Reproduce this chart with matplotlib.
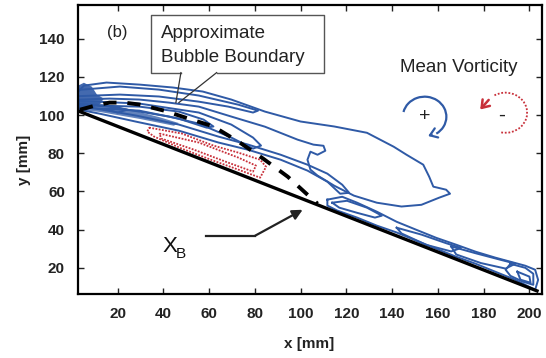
import matplotlib
matplotlib.use("Agg")
import matplotlib.pyplot as plt
from matplotlib.patches import Arc
import numpy as np

plt.rcParams["font.family"] = ["Liberation Sans", "DejaVu Sans"]

BLUE = "#2f5aa6"
RED = "#c8303a"

# ramp surface
wall_x = [1.0, 204.0]
wall_y = [103.0, 7.6]

# approximate bubble boundary (dashed)
bubble_x = [3.6, 10.1, 16.5, 23.0, 29.5, 40.3, 51.1, 61.9, 72.8, 83.6, 94.4, 103.0, 107.4]
bubble_y = [102.8, 104.9, 106.5, 106.5, 105.5, 102.3, 98.1, 94.0, 86.1, 77.2, 67.7, 58.3, 53.6]

# positive vorticity contours (closed loops, mm)
a_x = [1.5, 5.3, 15.2, 29.9, 44.2, 57.2, 69.7, 84.4, 100.0, 114.7, 129.0, 140.7, 146.3, 153.6,
       156.2, 158.0, 163.6, 165.3, 160.5, 152.8, 144.1, 133.3, 123.3, 114.7, 107.4, 104.3,
       103.0, 104.3, 107.4, 110.8, 110.0, 105.6, 98.7, 84.4, 69.7, 55.5, 42.5, 29.5, 16.5, 1.5]
a_y = [110.5, 115.4, 117.0, 115.9, 114.4, 112.3, 108.1, 101.8, 96.6, 94.0, 90.7, 83.4, 79.2, 74.0,
       67.7, 62.5, 60.9, 58.8, 56.7, 53.0, 52.1, 54.1, 57.8, 63.0, 68.3, 71.4,
       76.6, 80.8, 79.2, 81.3, 83.9, 84.5, 87.1, 93.9, 99.2, 104.4, 106.5, 108.1, 108.6, 108.0]

a2_x = [1.5, 21.0, 38.1, 55.5, 72.8, 81.4, 79.2, 68.4, 55.5, 38.1, 21.0, 1.5]
a2_y = [113.0, 114.9, 113.3, 110.2, 105.4, 102.3, 101.3, 104.4, 107.0, 109.7, 110.7, 109.8]

b_x = [1.5, 29.5, 55.5, 69.7, 79.2, 82.7, 79.2, 69.7, 55.5, 42.5, 29.5, 16.5, 1.5]
b_y = [107.5, 106.0, 101.3, 95.0, 88.2, 84.0, 82.4, 88.2, 95.5, 99.2, 101.8, 104.3, 106.0]

c_x = [3.0, 12.2, 29.5, 46.8, 57.6, 61.9, 58.9, 46.8, 29.5, 12.2, 3.0]
c_y = [105.5, 104.9, 104.4, 101.8, 97.6, 94.0, 93.4, 98.1, 102.3, 103.4, 104.0]

e_x = [15.7, 20.0, 24.3, 20.0]
e_y = [102.8, 103.9, 102.8, 101.3]

d_x = [1.5, 12.2, 28.2, 46.8, 64.1, 77.1, 91.3, 103.0, 111.7, 118.2, 121.2,
       117.3, 111.7, 103.0, 91.3, 77.1, 64.1, 46.8, 28.2, 12.2, 1.5]
d_y = [105.0, 103.0, 99.7, 95.0, 88.7, 84.5, 79.2, 74.0, 69.3, 63.5, 59.3,
       58.8, 65.1, 70.9, 76.6, 81.8, 85.6, 91.8, 96.5, 100.7, 103.2]

# near-wall band downstream
w1_x = [111.7, 118.2, 124.7, 133.3, 142.0, 150.6, 159.3, 168.0, 176.6, 185.2, 191.7, 198.2, 202.5,
        203.8, 202.5, 193.9, 185.2, 176.6, 168.0, 159.3, 150.6, 142.0, 133.3, 124.7, 116.0, 111.7]
w1_y = [55.7, 57.2, 54.1, 49.4, 44.1, 39.9, 35.7, 32.1, 28.4, 25.3, 23.2, 21.1, 19.0,
        13.7, 8.5, 13.7, 17.9, 22.1, 25.8, 30.0, 34.2, 38.5, 42.1, 46.3, 50.0, 52.6]
w2_x = [113.8, 120.3, 129.0, 135.5, 132.5, 124.7, 116.9]
w2_y = [54.1, 55.1, 51.5, 47.3, 46.3, 48.8, 51.5]
w3_x = [142.0, 152.8, 163.6, 170.1, 165.8, 155.0, 144.1]
w3_y = [41.0, 37.4, 32.9, 30.4, 28.6, 32.0, 38.0]
w4_x = [165.8, 176.6, 187.4, 193.9, 189.6, 178.8, 168.0]
w4_y = [31.2, 27.6, 24.2, 22.2, 19.6, 22.5, 27.0]
w5_x = [191.7, 198.2, 201.7, 201.7, 197.3, 191.7, 189.6]
w5_y = [22.1, 20.0, 16.9, 11.1, 12.7, 15.8, 19.0]
w6_x = [194.7, 200.0, 200.5, 196.1]
w6_y = [18.0, 15.4, 12.2, 13.8]

# dense cores where the contour lines pile up
core_x = [1.8, 5.3, 8.8, 11.0, 14.0, 12.2, 8.0, 2.7]
core_y = [114.8, 116.9, 114.8, 110.7, 108.6, 105.5, 103.4, 100.7]
shear_x = [2.7, 10.1, 25.2, 38.2, 46.8, 44.6, 29.5, 12.2, 2.7]
shear_y = [107.0, 106.5, 102.9, 98.9, 95.8, 94.4, 98.0, 101.6, 102.8]

# negative vorticity (dotted)
r1_x = [33.8, 48.1, 61.9, 72.8, 82.3, 84.9, 82.3, 72.8, 61.9, 48.1, 36.0, 33.0]
r1_y = [93.4, 90.3, 84.0, 80.3, 76.6, 72.9, 67.2, 71.4, 76.1, 82.4, 88.7, 91.3]
r2_x = [38.3, 55.5, 72.8, 80.5, 79.2, 68.5, 53.3, 39.1]
r2_y = [90.3, 85.6, 77.7, 73.5, 70.4, 75.0, 81.9, 87.7]

x_ticks = [20, 40, 60, 80, 100, 120, 140, 160, 180, 200]
y_ticks = [20, 40, 60, 80, 100, 120, 140]


def loop(ax, xs, ys, **kw):
    ax.plot(np.r_[xs, xs[:1]], np.r_[ys, ys[:1]], **kw)


fig = plt.figure(figsize=(5.46, 3.58), dpi=100)
ax = fig.add_axes([77.5 / 546, 64 / 358, 464.5 / 546, 289 / 358])

ax.fill(core_x, core_y, color=BLUE, alpha=0.9, lw=0)
ax.fill(shear_x, shear_y, color=BLUE, alpha=0.75, lw=0)
for xs, ys in [(a_x, a_y), (a2_x, a2_y), (b_x, b_y), (c_x, c_y), (e_x, e_y), (d_x, d_y),
               (w1_x, w1_y), (w2_x, w2_y), (w3_x, w3_y), (w4_x, w4_y), (w5_x, w5_y), (w6_x, w6_y)]:
    loop(ax, xs, ys, color=BLUE, lw=1.4, solid_joinstyle="round")
for xs, ys in [(r1_x, r1_y), (r2_x, r2_y)]:
    loop(ax, xs, ys, color=RED, lw=1.3, ls=(0, (1, 0.8)))

ax.plot(wall_x, wall_y, color="black", lw=2.4, solid_capstyle="butt")
ax.plot(bubble_x, bubble_y, color="black", lw=2.8, ls=(0, (3.4, 2.8)))

# callout box
ax.plot([47.7, 34.7, 34.7, 110.4, 110.4, 63.3], [122.2, 122.2, 152.6, 152.6, 122.2, 122.2],
        color="#555555", lw=1.0)
ax.plot([47.7, 45.5], [122.2, 106.5], color="#333333", lw=0.9)
ax.plot([63.3, 46.8], [122.2, 106.5], color="#333333", lw=0.9)
ax.text(39.0, 140.5, "Approximate", fontsize=13.5, color="#222222")
ax.text(39.0, 127.5, "Bubble Boundary", fontsize=13.5, color="#222222")
ax.text(15.2, 143.2, "(b)", fontsize=12, va="center", color="#222222")

# vorticity legend icons
ax.text(143.5, 122.7, "Mean Vorticity", fontsize=13.5, color="#222222")
ax.add_patch(Arc((154.2, 99.1), 19.0, 21.0, theta1=-60, theta2=165, color=BLUE, lw=1.6))
ax.annotate("", xy=(154.6, 88.5), xytext=(158.4, 90.2),
            arrowprops=dict(arrowstyle="->,head_length=0.5,head_width=0.35", color=BLUE, lw=1.6))
ax.text(154.2, 99.1, "+", fontsize=14, ha="center", va="center", color="#222222")
ax.add_patch(Arc((189.5, 101.2), 19.0, 21.0, theta1=-100, theta2=122, color=RED, lw=1.3,
                 ls=(0, (1, 1))))
ax.annotate("", xy=(177.7, 101.8), xytext=(183.0, 109.0),
            arrowprops=dict(arrowstyle="->,head_length=0.5,head_width=0.35", color=RED, lw=1.8))
ax.text(188.0, 100.0, "-", fontsize=15, ha="center", va="center", color="#222222")

# X_B pointer
ax.text(39.5, 28.4, "X", fontsize=16, color="#111111")
ax.text(45.6, 25.4, "B", fontsize=11, color="#111111")
ax.plot([58.5, 80.1], [36.8, 36.8], color="#222222", lw=1.6)
ax.annotate("", xy=(100.9, 50.4), xytext=(80.1, 36.8),
            arrowprops=dict(arrowstyle="-|>,head_length=0.6,head_width=0.3", color="#222222",
                            lw=1.6, shrinkA=0, shrinkB=0))

ax.set_xlim(2.5, 205.5)
ax.set_ylim(6.3, 157.6)
ax.set_xticks(x_ticks)
ax.set_yticks(y_ticks)
ax.tick_params(direction="in", length=4, width=1.0, top=True, right=True,
               labelsize=11, pad=9, colors="#222222")
for lab in ax.get_xticklabels() + ax.get_yticklabels():
    lab.set_fontweight("bold")
for sp in ax.spines.values():
    sp.set_linewidth(1.6)

ax.set_xlabel("x [mm]", fontsize=11, fontweight="bold", color="#222222")
ax.set_ylabel("y [mm]", fontsize=11, fontweight="bold", color="#222222")
ax.xaxis.set_label_coords(0.498, -0.15)
ax.yaxis.set_label_coords(-0.10, 0.465)

fig.savefig("out.png", dpi=100)
